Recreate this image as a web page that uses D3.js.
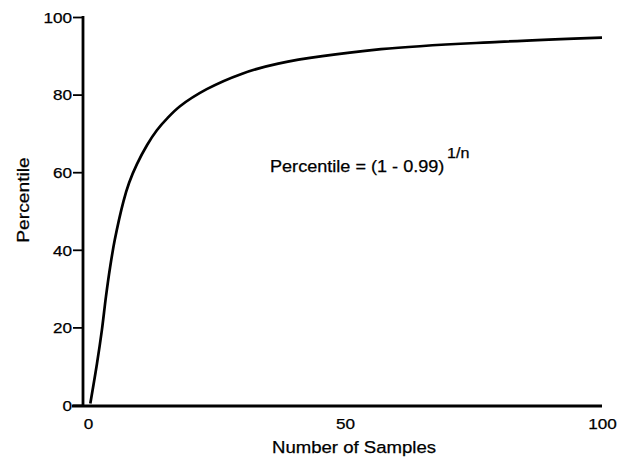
<!DOCTYPE html>
<html><head><meta charset="utf-8">
<script src="https://cdn.jsdelivr.net/npm/d3@7"></script>
<style>body{margin:0;background:#fff}svg{display:block}text{font-family:"Liberation Sans",Arial,Helvetica,sans-serif;fill:#000;stroke:#000;stroke-width:0.25px}</style>
</head><body>
<svg id="c" width="626" height="463"></svg>
<script>
const samples = [0.45, 1.75, 2.7, 3.5, 4.3, 5.2, 6.9, 8, 9.5, 11.5, 13.4, 15.5, 17.9, 23.1, 30, 37, 57, 80, 100];
const percentile = [0.4, 10.7, 19.3, 28, 35.5, 42.5, 52.5, 57.3, 62, 67, 70.8, 74, 77, 81.4, 85.4, 88, 91.7, 93.6, 94.7];
const xTicks = [0, 50, 100];
const yTicks = [0, 20, 40, 60, 80, 100];
const xTitle = "Number of Samples";
const yTitle = "Percentile";
const formula = "Percentile = (1 - 0.99)";
const formulaExp = "1/n";

const svg = d3.select("#c");
const x = d3.scaleLinear().domain([0, 100]).range([88, 602]);
const y = d3.scaleLinear().domain([0, 100]).range([405, 17]);

// widen glyphs a little, as in the scanned original
function widen(sel, k) {
  sel.each(function () {
    const w = this.getComputedTextLength();
    d3.select(this).attr("textLength", w * k).attr("lengthAdjust", "spacingAndGlyphs");
  });
}

// y axis
const ya = svg.append("g").attr("transform", "translate(83,0)")
  .call(d3.axisLeft(y).tickValues(yTicks).tickSize(10).tickPadding(1).tickFormat(d3.format("d")));
ya.select(".domain").attr("stroke", "#000").attr("stroke-width", 2.8).attr("d", "M0,16V406");
ya.selectAll(".tick line").attr("stroke", "#000").attr("stroke-width", 1.8);
ya.selectAll(".tick text").attr("font-size", 14.5).attr("dy", "0.36em").call(widen, 1.18);

// x axis
const xa = svg.append("g").attr("transform", "translate(0,406)")
  .call(d3.axisBottom(x).tickValues(xTicks).tickSize(0).tickPadding(13).tickFormat(d3.format("d")));
xa.select(".domain").attr("stroke", "#000").attr("stroke-width", 2.8).attr("d", "M72,0H602");
xa.selectAll(".tick text").attr("font-size", 14.5).call(widen, 1.18);

// curve
const line = d3.line().x((d, i) => x(samples[i])).y(d => y(d)).curve(d3.curveCatmullRom.alpha(0.5));
svg.append("path").datum(percentile).attr("d", line)
  .attr("fill", "none").attr("stroke", "#000").attr("stroke-width", 2.7);

// titles
svg.append("text").attr("x", 354).attr("y", 453).attr("text-anchor", "middle")
  .attr("font-size", 16).text(xTitle).call(widen, 1.16);
svg.append("text").attr("transform", "translate(29,200) rotate(-90)").attr("text-anchor", "middle")
  .attr("font-size", 16).text(yTitle).call(widen, 1.2);

// formula
svg.append("text").attr("x", 270).attr("y", 172).attr("font-size", 16).text(formula).call(widen, 1.13);
svg.append("text").attr("x", 447).attr("y", 158).attr("font-size", 14).text(formulaExp).call(widen, 1.15);
</script>
</body></html>
